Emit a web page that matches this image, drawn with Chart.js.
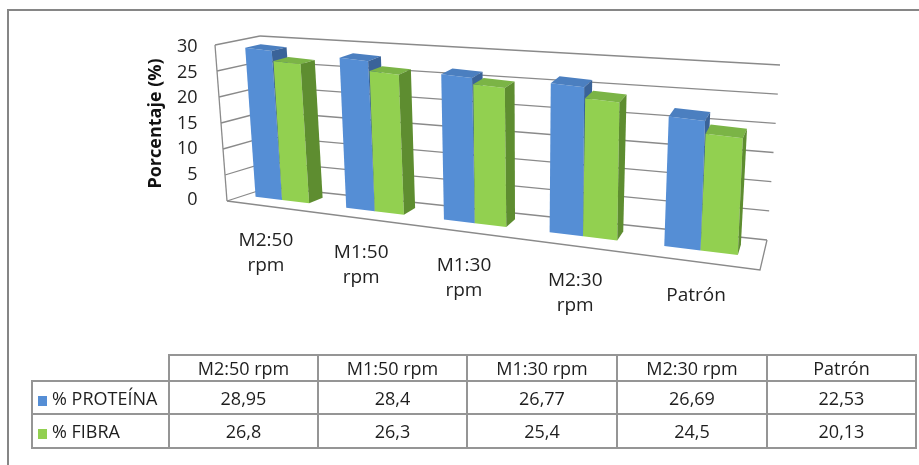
<!DOCTYPE html>
<html>
<head>
<meta charset="utf-8">
<script src="https://cdn.jsdelivr.net/npm/chart.js@4.4.1/dist/chart.umd.min.js"></script>
<style>
html,body{margin:0;padding:0;background:#fff;width:919px;height:465px;overflow:hidden;font-family:"Open Sans",sans-serif;}
#frame{position:absolute;left:7px;top:9px;width:960px;height:500px;border-left:2px solid #868686;border-top:2px solid #868686;box-sizing:border-box;}
#c{position:absolute;left:0;top:0;}
#tbl{position:absolute;left:31px;top:354px;border-collapse:collapse;table-layout:fixed;font-family:"Open Sans",sans-serif;font-size:18px;color:#1e1e1e;}
#tbl td{border:2px solid #959595;text-align:center;padding:0;white-space:nowrap;overflow:hidden;}
#tbl tr:first-child td:first-child{border-top:none;border-left:none;}
#tbl td.name{text-align:left;padding-left:5px;}
.sw{display:inline-block;width:9px;height:10px;margin-right:5px;vertical-align:-1px;}
</style>
</head>
<body>
<div id="frame"></div>
<canvas id="c" width="919" height="465"></canvas>
<table id="tbl"></table>
<script>
// ---- data ----
const categories = ["M2:50 rpm", "M1:50 rpm", "M1:30 rpm", "M2:30 rpm", "Patrón"];
const seriesNames = ["% PROTEÍNA", "% FIBRA"];
const proteina = [28.95, 28.4, 26.77, 26.69, 22.53];
const fibra = [26.8, 26.3, 25.4, 24.5, 20.13];
const yMin = 0, yMax = 30, yStep = 5;
const axisTitle = "Porcentaje (%)";

// ---- style ----
const FACES = [
  {front:'#558ED5', top:'#4B7FC0', side:'#3A6399'},
  {front:'#92D050', top:'#7BB446', side:'#5E8D30'}
];
// perspective box corners (front/back, left/right, bottom/top)
const BOX = {FLB:[227,201],FLT:[215,45],FRB:[760,270],FRT:[768,92],
             BLB:[270,187],BLT:[260,36],BRB:[767,240],BRT:[780,65]};
const ZF = 0.40, ZB = 0.75;
const GRID = '#8a8a8a';

function lerp(a,b,t){return [a[0]+(b[0]-a[0])*t, a[1]+(b[1]-a[1])*t];}
function P(u,t,z){
  const bot = lerp(lerp(BOX.FLB,BOX.FRB,u), lerp(BOX.BLB,BOX.BRB,u), z);
  const top = lerp(lerp(BOX.FLT,BOX.FRT,u), lerp(BOX.BLT,BOX.BRT,u), z);
  return lerp(bot, top, t);
}
function warp(u){const b=-0.18; return -0.0115 + 1.0123*u*(1+b)/(1+b*u);}
function add(a,b){return [a[0]+b[0],a[1]+b[1]];}
function sub(a,b){return [a[0]-b[0],a[1]-b[1]];}
function poly(ctx, pts, color){
  ctx.beginPath(); ctx.moveTo(pts[0][0],pts[0][1]);
  for(let i=1;i<pts.length;i++) ctx.lineTo(pts[i][0],pts[i][1]);
  ctx.closePath(); ctx.fillStyle=color; ctx.fill();
}
function line(ctx,a,b){ctx.beginPath();ctx.moveTo(a[0],a[1]);ctx.lineTo(b[0],b[1]);ctx.stroke();}

function draw3dBar(chart, el, orig, ctx, area, dsIndex){
  const ca = chart.chartArea, ys = chart.scales.y;
  const U = nx => warp((nx-ca.left)/(ca.right-ca.left));
  const T = ny => (ys.getValueForPixel(ny)-yMin)/(yMax-yMin);
  const p = el.getProps(['x','y','base','width'], true);
  const xL = p.x - p.width/2, xR = p.x + p.width/2;
  const uL = U(xL), uR = U(xR), t = T(p.y), t0 = T(p.base);
  const A = P(uL,t0,ZF), B = P(uR,t0,ZF), C = P(uL,t,ZF);
  const w = xR-xL, h = p.y - p.base;
  if (Math.abs(h) < 0.01) return;
  const a=(B[0]-A[0])/w, b=(B[1]-A[1])/w, c=(C[0]-A[0])/h, d=(C[1]-A[1])/h;
  const e=A[0]-a*xL-c*p.base, f=A[1]-b*xL-d*p.base;
  ctx.save(); ctx.setTransform(a,b,c,d,e,f); orig.call(el, ctx, area); ctx.restore();
  const D = [B[0]+C[0]-A[0], B[1]+C[1]-A[1]];
  const dTR = sub(P(uR,t,ZB),P(uR,t,ZF)), dTL = sub(P(uL,t,ZB),P(uL,t,ZF)), dBR = sub(P(uR,t0,ZB),P(uR,t0,ZF));
  const fc = FACES[dsIndex];
  ctx.save();
  poly(ctx,[C,D,add(D,dTR),add(C,dTL)],fc.top);
  poly(ctx,[B,D,add(D,dTR),add(B,dBR)],fc.side);
  ctx.restore();
}

const box3d = {
  id:'box3d',
  afterUpdate(chart){
    chart.data.datasets.forEach((ds,di)=>{
      const meta = chart.getDatasetMeta(di);
      meta.data.forEach(el=>{
        if(!el._w3d){
          const orig = el.draw;
          el.draw = function(ctx, area){ draw3dBar(chart, this, orig, ctx, area, di); };
          el._w3d = true;
        }
      });
    });
  },
  // paint first series first, second series over it
  beforeDatasetDraw(chart, args){
    if (args.index === 1) return false;
  },
  afterDatasetDraw(chart, args){
    if (args.index === 0) chart.getDatasetMeta(1).controller.draw();
  },
  beforeDatasetsDraw(chart){
    const ctx = chart.ctx, ys = chart.scales.y, xs = chart.scales.x, ca = chart.chartArea;
    ctx.save();
    ctx.strokeStyle = GRID; ctx.lineWidth = 1.3;
    poly(ctx,[P(0,0,0),P(1,0,0),P(1,0,1),P(0,0,1)],'#ffffff');
    ys.ticks.forEach(tk=>{
      const t = (tk.value-yMin)/(yMax-yMin);
      line(ctx,P(0,t,1),P(1,t,1));
      line(ctx,P(0,t,0),P(0,t,1));
    });
    line(ctx,P(0,0,0),P(0,1,0));
    ctx.beginPath();
    const f0=P(0,0,0),f1=P(1,0,0),f2=P(1,0,1);
    ctx.moveTo(f0[0],f0[1]);ctx.lineTo(f1[0],f1[1]);ctx.lineTo(f2[0],f2[1]);ctx.stroke();
    // category labels
    ctx.fillStyle='#222'; ctx.font='19px "Open Sans", sans-serif';
    ctx.textAlign='center'; ctx.textBaseline='alphabetic';
    categories.forEach((lab,i)=>{
      const px = xs.getPixelForValue(i);
      const u = warp((px-ca.left)/(ca.right-ca.left));
      const q = P(u,0,0);
      const lines = lab.split(' ');
      lines.forEach((ln,k)=>ctx.fillText(ln, q[0], q[1]+39.5+k*25));
    });
    ctx.restore();
  }
};

new Chart(document.getElementById('c'), {
  type:'bar',
  data:{labels:categories, datasets:[
    {label:seriesNames[0], data:proteina, backgroundColor:FACES[0].front, borderWidth:0, clip:false},
    {label:seriesNames[1], data:fibra, backgroundColor:FACES[1].front, borderWidth:0, clip:false}
  ]},
  options:{
    responsive:false, animation:false, devicePixelRatio:1,
    layout:{padding:{left:141, top:47, right:139, bottom:265}},
    datasets:{bar:{categoryPercentage:0.6, barPercentage:1}},
    plugins:{legend:{display:false}, tooltip:{enabled:false}},
    scales:{
      x:{display:false},
      y:{min:yMin, max:yMax,
         ticks:{stepSize:yStep, padding:12, color:'#222', font:{family:'"Open Sans", sans-serif', size:18}},
         grid:{display:false, drawTicks:false}, border:{display:false},
         title:{display:true, text:axisTitle, color:'#111', padding:{top:6,bottom:0},
                font:{family:'"Open Sans", sans-serif', size:18, weight:'bold', lineHeight:1}}}
    }
  },
  plugins:[box3d]
});

// ---- data table ----
const fmt = v => String(v).replace('.', ',');
const colW = [137,149,149,150,150,149];
const rowH = [26,33,34];
const tbl = document.getElementById('tbl');
const cg = document.createElement('colgroup');
colW.forEach(w=>{const c=document.createElement('col');c.style.width=w+'px';cg.appendChild(c);});
tbl.appendChild(cg);
const hr = tbl.insertRow(); hr.style.height=rowH[0]+'px';
hr.insertCell();
categories.forEach(c=>{hr.insertCell().textContent=c;});
[proteina, fibra].forEach((vals,si)=>{
  const r = tbl.insertRow(); r.style.height=rowH[si+1]+'px';
  const nc = r.insertCell(); nc.className='name';
  const sw = document.createElement('span'); sw.className='sw'; sw.style.background=FACES[si].front;
  nc.appendChild(sw); nc.appendChild(document.createTextNode(seriesNames[si]));
  vals.forEach(v=>{r.insertCell().textContent=fmt(v);});
});
</script>
</body>
</html>
